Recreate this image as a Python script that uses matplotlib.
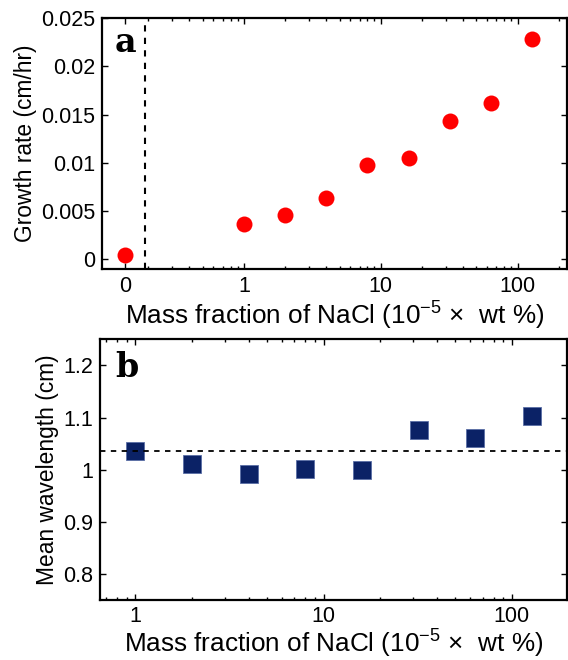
import numpy as np
import matplotlib
matplotlib.use("Agg")
import matplotlib.pyplot as plt

# NaCl mass fraction (1e-5 wt %)
conc = [0, 1, 2, 4, 8, 16, 32, 64, 128]
growth_rate = [0.00045, 0.0037, 0.0046, 0.0064, 0.0098, 0.0105, 0.0143, 0.0162, 0.0228]

conc_b = [1, 2, 4, 8, 16, 32, 64, 128]
wavelength = [1.036, 1.010, 0.992, 1.001, 1.000, 1.077, 1.061, 1.102]

xticklabels = ["0", "1", "10", "100"]

# where the zero-salt point sits on the log axis
zero_pos = 0.135
sep_pos = 0.19

plt.rcParams['font.family'] = ['Liberation Sans', 'DejaVu Sans']
plt.rcParams['mathtext.fontset'] = 'custom'
plt.rcParams['mathtext.rm'] = 'Liberation Sans'

fig = plt.figure(figsize=(5.68, 6.6), dpi=100)
ax1 = fig.add_axes([0.1796, 0.5924, 0.818, 0.380])
ax2 = fig.add_axes([0.176, 0.0909, 0.822, 0.395])

xlabel = r'Mass fraction of NaCl (10$^{-5}$ $\times$  wt %)'

def style(ax):
    for s in ax.spines.values():
        s.set_linewidth(1.6)
    ax.tick_params(which='both', direction='in', top=True, right=True,
                   labelsize=15.5, width=1.0, pad=5)
    ax.tick_params(which='major', length=4)
    ax.tick_params(which='minor', length=2)

# panel a
xpos = [zero_pos if c == 0 else c for c in conc]
ax1.set_xscale('log')
ax1.plot(xpos, growth_rate, 'o', color='#ff0000', markersize=11.5, markeredgewidth=0)
ax1.axvline(sep_pos, color='black', linestyle=(0, (3, 3)), linewidth=1.5)
ax1.set_xlim(0.092, 228)
ax1.set_ylim(-0.001, 0.025)
ax1.set_xticks([zero_pos, 1, 10, 100])
ax1.set_xticklabels(xticklabels)
ax1.set_yticks([0, 0.005, 0.01, 0.015, 0.02, 0.025])
ax1.set_yticklabels(["0", "0.005", "0.01", "0.015", "0.02", "0.025"])
ax1.set_ylabel('Growth rate (cm/hr)', fontsize=16.4, labelpad=3)
ax1.set_xlabel(xlabel, fontsize=18.8, labelpad=1)
style(ax1)
ax1.text(0.028, 0.905, 'a', transform=ax1.transAxes, fontsize=24,
         fontweight='bold', family='DejaVu Serif', va='center', ha='left')

# panel b
ax2.set_xscale('log')
ax2.plot(conc_b, wavelength, 's', color='#0b2266', markersize=13,
         markeredgecolor='#5a6ea6', markeredgewidth=0.6)
ax2.axhline(np.mean(wavelength), color='black', linestyle=(0, (3, 3)), linewidth=1.3)
ax2.set_xlim(0.65, 196)
ax2.set_ylim(0.75, 1.25)
ax2.set_xticks([1, 10, 100])
ax2.set_xticklabels(xticklabels[1:])
ax2.set_yticks([0.8, 0.9, 1.0, 1.1, 1.2])
ax2.set_yticklabels(["0.8", "0.9", "1", "1.1", "1.2"])
ax2.set_ylabel('Mean wavelength (cm)', fontsize=16.4, labelpad=3)
ax2.set_xlabel(xlabel, fontsize=18.8, labelpad=0)
style(ax2)
ax2.tick_params(axis='x', pad=4)
ax2.text(0.032, 0.89, 'b', transform=ax2.transAxes, fontsize=24,
         fontweight='bold', family='DejaVu Serif', va='center', ha='left')

fig.savefig('out.png', dpi=100)
